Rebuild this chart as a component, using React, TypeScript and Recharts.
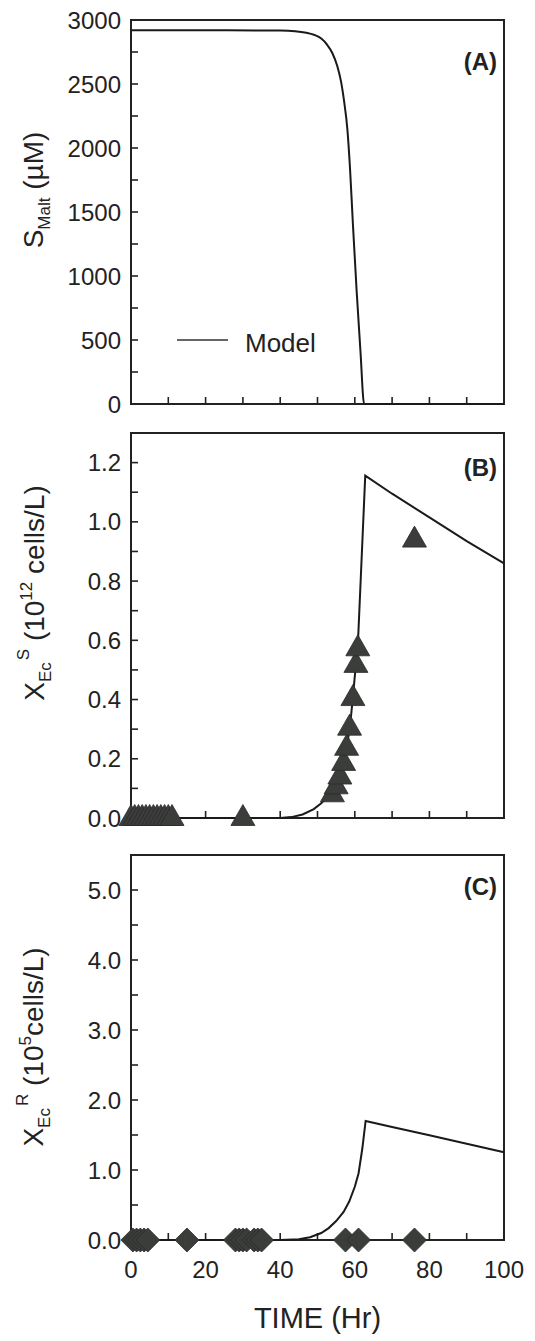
import React from 'react';
import { ComposedChart, Line, Scatter, XAxis, YAxis, Customized, Label, ReferenceArea, ReferenceLine } from 'recharts';

// ---------- DATA ----------
const xTicks = [0, 10, 20, 30, 40, 50, 60, 70, 80, 90, 100];
const xMajor = [0, 20, 40, 60, 80, 100];

// Panel A: maltose model
const timeA = [0, 20, 40, 44, 47, 49, 51, 52.5, 54, 55.3, 56.3, 57.2, 58, 58.7, 59.5, 60.5, 61.5, 62.5, 70, 80, 90, 100];
const maltModel = [2920, 2920, 2917, 2912, 2900, 2885, 2855, 2810, 2740, 2640, 2520, 2350, 2150, 1850, 1400, 880, 420, 0, 0, 0, 0, 0];
const yTicksA = [0, 250, 500, 750, 1000, 1250, 1500, 1750, 2000, 2250, 2500, 2750, 3000];
const yMajorA = [0, 500, 1000, 1500, 2000, 2500, 3000];

// Panel B: sensitive E. coli
const timeB = [0, 20, 40, 43, 46, 49, 51, 53, 54, 55, 56, 57, 58, 58.8, 59.5, 60.3, 60.8, 62.8, 70, 80, 90, 100];
const susModel = [0, 0, 0, 0.003, 0.012, 0.03, 0.05, 0.075, 0.09, 0.115, 0.15, 0.195, 0.25, 0.32, 0.41, 0.52, 0.58, 1.156, 1.095, 1.015, 0.935, 0.86];
const obsTimeB = [0, 1, 2, 3, 4, 5, 6, 7, 8, 9, 10, 11, 30, 54, 55, 56, 57, 57.8, 58.6, 59.5, 60.3, 60.8, 76];
const obsSus = [0, 0, 0, 0, 0, 0, 0, 0, 0, 0, 0, 0, 0, 0.08, 0.107, 0.14, 0.186, 0.237, 0.305, 0.405, 0.517, 0.573, 0.94];
const yTicksB = [0, 0.1, 0.2, 0.3, 0.4, 0.5, 0.6, 0.7, 0.8, 0.9, 1.0, 1.1, 1.2];
const yMajorB = [0, 0.2, 0.4, 0.6, 0.8, 1.0, 1.2];

// Panel C: resistant E. coli
const timeC = [0, 40, 45, 48, 51, 53, 55, 57, 58.5, 60, 61, 62, 62.9, 70, 80, 90, 100];
const resModel = [0, 0, 0.01, 0.04, 0.1, 0.17, 0.27, 0.4, 0.55, 0.76, 0.95, 1.3, 1.7, 1.615, 1.495, 1.375, 1.255];
const obsTimeC = [0.5, 1.5, 2.5, 3.5, 4.5, 15, 28, 29, 30, 31, 33, 34, 35, 57.5, 61, 76];
const obsRes = [0, 0, 0, 0, 0, 0, 0, 0, 0, 0, 0, 0, 0, 0, 0, 0];
const yTicksC = [0, 0.5, 1, 1.5, 2, 2.5, 3, 3.5, 4, 4.5, 5];
const yMajorC = [0, 1, 2, 3, 4, 5];

// ---------- helpers ----------
const FONT = '"Liberation Sans", Arial, Helvetica, sans-serif';
const INK = '#222';
const MARK = '#3b3d3b';
const W = 535;
const LEFT = 131;
const RIGHT_M = 31;
const PLOT_W = W - LEFT - RIGHT_M; // 373
const PLOT_H = 385;
const TL = 7; // inward tick length in px

const zip = (ts: number[], vs: number[]) => ts.map((t, i) => ({ t, v: vs[i] }));
const isMajor = (list: number[], v: number) => list.some((m) => Math.abs(m - v) < 1e-9);

const makeYTick = (major: number[], fmt: (v: number) => string) => (props: any) => {
  const { x, y, payload } = props;
  if (!isMajor(major, payload.value)) return <g />;
  return (
    <text x={x - 10} y={y} dy="0.36em" textAnchor="end" fontSize={24} fontFamily={FONT} fill={INK}>
      {fmt(payload.value)}
    </text>
  );
};

const xTickLabel = (props: any) => {
  const { x, y, payload } = props;
  if (!isMajor(xMajor, payload.value)) return <g />;
  return (
    <text x={x} y={y + 38} textAnchor="middle" fontSize={24} fontFamily={FONT} fill={INK}>
      {String(payload.value)}
    </text>
  );
};

const triangle = (props: any) => {
  const { cx, cy } = props;
  if (cx == null || cy == null) return <g />;
  return (
    <polygon
      points={`${cx},${cy - 13.5} ${cx - 12},${cy + 7.5} ${cx + 12},${cy + 7.5}`}
      fill={MARK}
      stroke="#2a2a2a"
      strokeWidth={0.8}
    />
  );
};

const diamond = (props: any) => {
  const { cx, cy } = props;
  if (cx == null || cy == null) return <g />;
  return (
    <polygon
      points={`${cx},${cy - 12} ${cx + 12},${cy} ${cx},${cy + 12} ${cx - 12},${cy}`}
      fill={MARK}
      stroke="#2a2a2a"
      strokeWidth={0.8}
    />
  );
};

const panelTag = (label: string, y: number) => () => (
  <text x={497} y={y} textAnchor="end" fontSize={24} fontWeight="bold" fontFamily={FONT} fill={INK}>
    {label}
  </text>
);

// frame box + inward ticks drawn as reference shapes in data space
const frameAndTicks = (yTop: number, yTicks: number[]) => {
  const xLen = (TL / PLOT_W) * 100; // horizontal tick length in data units
  const yLen = (TL / PLOT_H) * yTop; // vertical tick length in data units
  const els: any[] = [
    <ReferenceArea key="frame" x1={0} x2={100} y1={0} y2={yTop} fill="none" fillOpacity={0}
      stroke={INK} strokeWidth={2} ifOverflow="visible" />,
  ];
  xTicks.forEach((t) => {
    els.push(
      <ReferenceLine key={`xt${t}`} segment={[{ x: t, y: 0 }, { x: t, y: yLen }]}
        stroke={INK} strokeWidth={1.6} ifOverflow="visible" />
    );
  });
  yTicks.forEach((v) => {
    els.push(
      <ReferenceLine key={`yt${v}`} segment={[{ x: 0, y: v }, { x: xLen, y: v }]}
        stroke={INK} strokeWidth={1.6} ifOverflow="visible" />
    );
  });
  return els;
};

export default function App() {
  const dataA = zip(timeA, maltModel);
  const dataB = zip(timeB, susModel);
  const obsB = zip(obsTimeB, obsSus);
  const dataC = zip(timeC, resModel);
  const obsC = zip(obsTimeC, obsRes);

  return (
    <div style={{ position: 'absolute', left: 0, top: 0, width: W, height: 1341, background: '#fff', fontFamily: FONT }}>
      {/* Panel A */}
      <div style={{ position: 'absolute', left: 0, top: 0 }}>
        <ComposedChart width={W} height={430} margin={{ top: 20, right: RIGHT_M, bottom: 26, left: 0 }}>
          <XAxis dataKey="t" type="number" domain={[0, 100]} ticks={xTicks} interval={0} height={0}
            tick={false} tickLine={false} axisLine={false} />
          <YAxis type="number" domain={[0, 3000]} ticks={yTicksA} interval={0} width={LEFT}
            tick={makeYTick(yMajorA, (v) => String(v))} tickSize={0} tickMargin={0}
            axisLine={false} tickLine={false}>
            <Label
              content={() => (
                <text x={43} y={190} transform="rotate(-90, 43, 190)" textAnchor="middle" fontSize={28} fontFamily={FONT} fill={INK}>
                  <tspan>S</tspan>
                  <tspan dy={7} fontSize={17}>Malt</tspan>
                  <tspan dy={-7}> (µM)</tspan>
                </text>
              )}
            />
          </YAxis>
          {frameAndTicks(3000, yTicksA)}
          <Line data={dataA} dataKey="v" type="monotone" stroke="#1a1a1a" strokeWidth={2} dot={false}
            isAnimationActive={false} name="Model" />
          <Customized component={panelTag('(A)', 70)} />
          <Customized
            component={() => (
              <g>
                <line x1={177} y1={340} x2={228} y2={340} stroke="#333" strokeWidth={1.5} />
                <text x={245} y={352} fontSize={26} fontFamily={FONT} fill={INK}>Model</text>
              </g>
            )}
          />
        </ComposedChart>
      </div>

      {/* Panel B */}
      <div style={{ position: 'absolute', left: 0, top: 425 }}>
        <ComposedChart width={W} height={415} margin={{ top: 8, right: RIGHT_M, bottom: 22, left: 0 }}>
          <XAxis dataKey="t" type="number" domain={[0, 100]} ticks={xTicks} interval={0} height={0}
            tick={false} tickLine={false} axisLine={false} />
          <YAxis type="number" domain={[0, 1.3]} ticks={yTicksB} interval={0} width={LEFT}
            tick={makeYTick(yMajorB, (v) => v.toFixed(1))} tickSize={0} tickMargin={0}
            axisLine={false} tickLine={false}>
            <Label
              content={() => (
                <text x={44} y={168} transform="rotate(-90, 44, 168)" textAnchor="middle" fontSize={28} fontFamily={FONT} fill={INK}>
                  <tspan>X</tspan>
                  <tspan dy={7} fontSize={17}>Ec</tspan>
                  <tspan dy={-22} dx={2} fontSize={17}>S</tspan>
                  <tspan dy={15}> (10</tspan>
                  <tspan dy={-12} fontSize={17}>12</tspan>
                  <tspan dy={12}> cells/L)</tspan>
                </text>
              )}
            />
          </YAxis>
          {frameAndTicks(1.3, yTicksB)}
          <Line data={dataB} dataKey="v" type="linear" stroke="#1a1a1a" strokeWidth={2} dot={false}
            isAnimationActive={false} />
          <Scatter data={obsB} dataKey="v" shape={triangle} isAnimationActive={false} />
          <Customized component={panelTag('(B)', 51)} />
        </ComposedChart>
      </div>

      {/* Panel C */}
      <div style={{ position: 'absolute', left: 0, top: 840 }}>
        <ComposedChart width={W} height={501} margin={{ top: 15, right: RIGHT_M, bottom: 0, left: 0 }}>
          <XAxis dataKey="t" type="number" domain={[0, 100]} ticks={xTicks} interval={0} height={101}
            tick={xTickLabel} tickSize={0} tickMargin={0} axisLine={false} tickLine={false}>
            <Label
              content={(p: any) => {
                const vb = p.viewBox || { x: LEFT, y: 400, width: PLOT_W };
                return (
                  <text x={vb.x + vb.width / 2} y={vb.y + 88} textAnchor="middle" fontSize={29} fontFamily={FONT} fill={INK}>
                    TIME (Hr)
                  </text>
                );
              }}
            />
          </XAxis>
          <YAxis type="number" domain={[0, 5.5]} ticks={yTicksC} interval={0} width={LEFT}
            tick={makeYTick(yMajorC, (v) => v.toFixed(1))} tickSize={0} tickMargin={0}
            axisLine={false} tickLine={false}>
            <Label
              content={() => (
                <text x={43} y={207} transform="rotate(-90, 43, 207)" textAnchor="middle" fontSize={28} fontFamily={FONT} fill={INK}>
                  <tspan>X</tspan>
                  <tspan dy={7} fontSize={17}>Ec</tspan>
                  <tspan dy={-22} dx={2} fontSize={17}>R</tspan>
                  <tspan dy={15}> (10</tspan>
                  <tspan dy={-12} fontSize={17}>5</tspan>
                  <tspan dy={12}>cells/L)</tspan>
                </text>
              )}
            />
          </YAxis>
          {frameAndTicks(5.5, yTicksC)}
          <Line data={dataC} dataKey="v" type="linear" stroke="#1a1a1a" strokeWidth={2} dot={false}
            isAnimationActive={false} />
          <Scatter data={obsC} dataKey="v" shape={diamond} isAnimationActive={false} />
          <Customized component={panelTag('(C)', 55)} />
        </ComposedChart>
      </div>
    </div>
  );
}
